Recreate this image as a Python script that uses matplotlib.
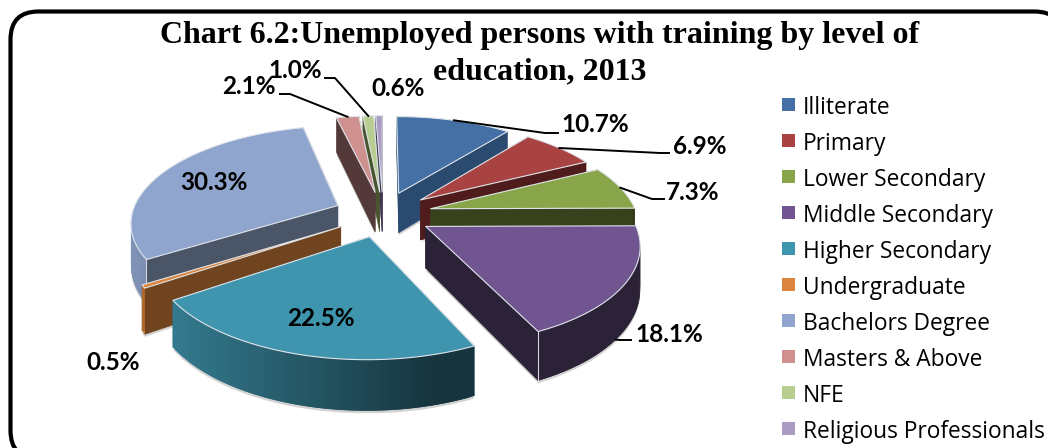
import numpy as np
import matplotlib
matplotlib.use('Agg')
import matplotlib.pyplot as plt
from matplotlib.patches import FancyBboxPatch, Polygon, Rectangle

categories = ['Illiterate', 'Primary', 'Lower Secondary', 'Middle Secondary',
              'Higher Secondary', 'Undergraduate', 'Bachelors Degree',
              'Masters & Above', 'NFE', 'Religious Professionals']
shares = [10.7, 6.9, 7.3, 18.1, 22.5, 0.5, 30.3, 2.1, 1.0, 0.6]
top_colors = ['#4470a6', '#a84341', '#88a54a', '#715590', '#3f95ae',
              '#db843d', '#8fa5cd', '#cf9090', '#b8ce90', '#a99bc2']
side_colors = ['#2b4a70', '#4f1c1b', '#37421c', '#2c2238', '#2f7488',
               '#6f441f', '#4a5568', '#53393a', '#48552f', '#3e3550']

# projection of the pie plane onto the canvas (pixels)
CX, CY = 383, 214
RX, RY = 206, 95
PERSP = 0.16
EXPLODE = 0.24
DEPTH = 41

# slices are painted back to front
paint_order = [9, 8, 7, 0, 1, 2, 6, 5, 3, 4]


def project(x, z):
    p = 1 / (1 + PERSP * z)
    return CX + RX * x * p, CY - RY * z * p, DEPTH * p


def slice_outline(start, end):
    mid = (start + end) / 2
    ox, oz = EXPLODE * np.sin(mid), EXPLODE * np.cos(mid)
    th = np.linspace(start, end, 60)
    return ox, oz, th, ox + np.sin(th), oz + np.cos(th)


def shade(color, f):
    return tuple(np.array(matplotlib.colors.to_rgb(color)) * f)


def draw_slice(ax, i, start, end, layer):
    ox, oz, th, x, z = slice_outline(start, end)
    ax0, ay0, d0 = project(ox, oz)
    px, py, d = project(x, z)
    base = top_colors[i]

    # soft shadow under the body
    shadow = np.r_[np.c_[px, py + d + 2.5], [[ax0, ay0 + d0 + 2.5]]]
    ax.add_patch(Polygon(shadow, closed=True, fc='#b5b5b5', ec='none', alpha=0.6, zorder=layer))

    # radial walls, the far one first
    for n in sorted([0, -1], key=lambda n: -z[n]):
        ax.add_patch(Polygon([(ax0, ay0), (px[n], py[n]), (px[n], py[n] + d[n]), (ax0, ay0 + d0)],
                             closed=True, fc=side_colors[i], ec=side_colors[i], lw=0.4,
                             zorder=layer + 0.1))

    # outer wall on the near half only, darker towards the right (flat on the purple slice)
    for k in range(len(px) - 1):
        if np.cos(th[k]) > 0.05:
            continue
        c = side_colors[3] if i == 3 else shade(base, max(0.88 - 0.6 * (px[k] - 140) / 340, 0.35))
        m = min(k + 2, len(px) - 1)
        ax.add_patch(Polygon([(px[k], py[k]), (px[m], py[m]), (px[m], py[m] + d[m]), (px[k], py[k] + d[k])],
                             closed=True, fc=c, ec='none', zorder=layer + 0.2))

    # light line down the front corner of the big slices
    if i in (3, 6):
        n = -1 if i == 3 else 0
        ax.plot([px[n], px[n]], [py[n], py[n] + d[n]], color='#d5d5dc', lw=0.8, zorder=layer + 0.25)

    # top face with a thin light bevel
    ax.add_patch(Polygon(np.r_[[[ax0, ay0]], np.c_[px, py]], closed=True, fc=base,
                         ec='#dfe4ea', lw=0.8, joinstyle='round', zorder=layer + 0.3))


def arc_point(start, end, frac, on_floor=False):
    ox, oz, _, _, _ = slice_outline(start, end)
    th = start + (end - start) * frac
    sx, sy, d = project(ox + np.sin(th), oz + np.cos(th))
    return sx, sy + d if on_floor else sy


fig = plt.figure(figsize=(10.48, 4.48), dpi=100)
ax = fig.add_axes([0, 0, 1, 1])
ax.set_xlim(0, 1048)
ax.set_ylim(448, 0)
ax.axis('off')

# chart frame, runs off the canvas on the right and at the bottom
ax.add_patch(FancyBboxPatch((10.5, 11.5), 1052, 447, boxstyle='round,pad=0,rounding_size=28',
                            fc='white', ec='black', lw=3, zorder=-1))

edges = np.r_[0, np.cumsum(shares)] / np.sum(shares) * 2 * np.pi
for layer, i in enumerate(paint_order):
    draw_slice(ax, i, edges[i], edges[i + 1], layer)

ax.text(540, 36, 'Chart 6.2:Unemployed persons with training by level of', ha='center', va='center',
        family='Liberation Serif', fontweight='bold', fontsize=23, zorder=50)
ax.text(540, 72, 'education, 2013', ha='center', va='center',
        family='Liberation Serif', fontweight='bold', fontsize=23, zorder=50)

# value labels: centre position, then optional leader (arc fraction, elbow, end of tail)
label_layout = [
    (595, 125, (0.5, 545, 133, 558)), (700, 146, (0.5, 660, 153, 669)), (693, 193, (0.5, 652, 199, 664)),
    (669, 334, (0.58, 620, 340, 631)), (321, 319, None), (113, 363, None), (214, 182, None),
    (249, 87, (0.5, 290, 94, 280)), (295, 71, (0.5, 335, 78, 325)), (398, 88, None),
]
for i, (lx, ly, leader) in enumerate(label_layout):
    ax.text(lx, ly, f'{shares[i]:.1f}%', ha='center', va='center', family='Lato',
            fontweight='bold', fontsize=17.5, zorder=60)
    if leader is None:
        continue
    frac, ex, ey, tail = leader
    sx, sy = arc_point(edges[i], edges[i + 1], frac, on_floor=(i == 3))
    ax.plot([sx, ex, tail], [sy, ey, ey], color='black', lw=1.4, zorder=55)

# legend
leg_y = np.linspace(105, 429, len(categories))
for name, color, y in zip(categories, top_colors, leg_y):
    ax.add_patch(Rectangle((782, y - 6.5), 13, 13, fc=color, ec='none', zorder=40))
    ax.text(803, y + 2.5, name, ha='left', va='center', family='Open Sans', fontsize=16.4, zorder=40)

fig.savefig('out.png', dpi=100)
